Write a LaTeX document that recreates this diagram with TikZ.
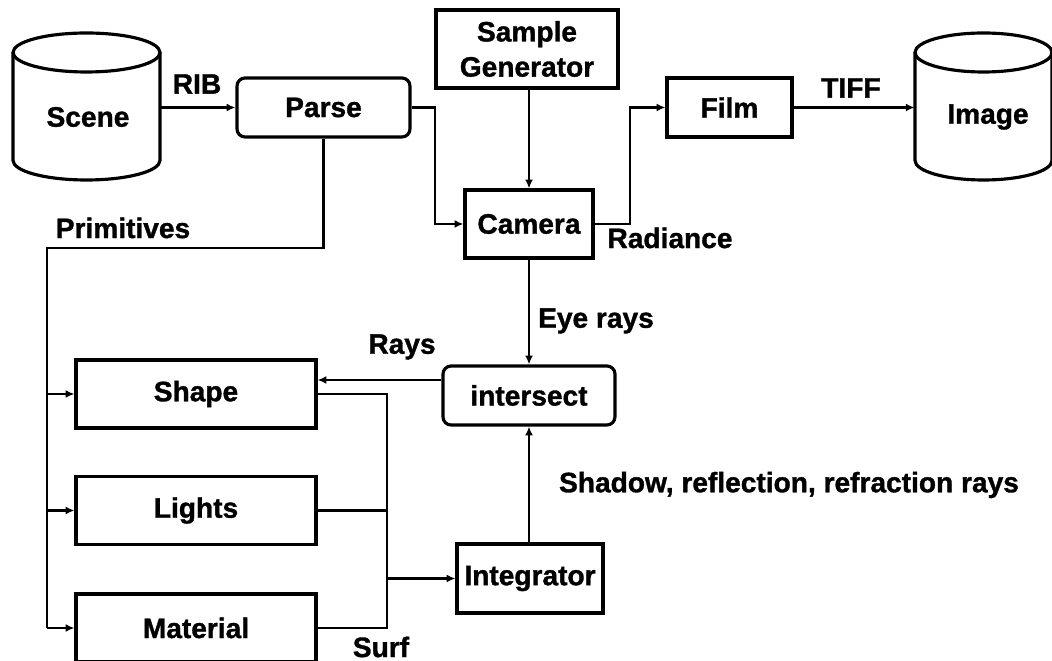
\documentclass[tikz,border=0pt]{standalone}
\usepackage{fontspec}
\setmainfont{Liberation Sans}[BoldFeatures={FakeBold=1.2}]
\usetikzlibrary{arrows.meta}
\begin{document}
\begin{tikzpicture}[x=0.02cm,y=-0.02cm,
  boxline/.style={line width=1.8pt},
  conn/.style={line width=1.5pt},
  arr/.style={conn,-{Latex[length=5pt,width=4.5pt]}},
  txt/.style={font=\fontsize{16}{20}\selectfont\bfseries},
  rbox/.style={boxline,draw,rectangle,inner sep=0pt,txt},
  rrbox/.style={rbox,rounded corners=0.16cm},
  lab/.style={txt,inner sep=0pt}]
\clip (0,0) rectangle (1052,661);
\fill[white] (0,0) rectangle (1052,661);
% cylinders
\node[inner sep=0pt,minimum width=2.94cm,minimum height=2.94cm] (scene) at (86.5,106.5) {};
\node[lab] (scenetxt) at (88,117) {Scene};
\draw[boxline] (86.5,52.5) ellipse [x radius=1.47cm,y radius=0.39cm];
\draw[boxline] (13,52.5) -- (13,160.5) arc[start angle=180,end angle=360,x radius=1.47cm,y radius=0.39cm] -- (160,52.5);
\node[inner sep=0pt,minimum width=2.74cm,minimum height=2.94cm] (image) at (983.5,106.5) {};
\node[lab] (imagetxt) at (988,117) {Image};
\draw[boxline] (983.5,52.5) ellipse [x radius=1.37cm,y radius=0.39cm];
\draw[boxline] (915,52.5) -- (915,160.5) arc[start angle=180,end angle=360,x radius=1.37cm,y radius=0.39cm] -- (1052,52.5);
% boxes
\node[rrbox,minimum width=3.46cm,minimum height=1.18cm] (parse) at (323.5,107.5) {Parse};
\node[rbox,minimum width=3.64cm,minimum height=1.56cm,align=center] (sg) at (527,49) {Sample\\Generator};
\node[rbox,minimum width=2.56cm,minimum height=1.36cm] (camera) at (529,224) {Camera};
\node[rbox,minimum width=2.5cm,minimum height=1.18cm] (film) at (729.5,107.5) {Film};
\node[rrbox,minimum width=3.44cm,minimum height=1.18cm] (intersect) at (529,395.5) {intersect};
\node[rbox,minimum width=2.92cm,minimum height=1.38cm] (integrator) at (530,578.5) {Integrator};
\node[rbox,minimum width=4.8cm,minimum height=1.36cm] (shape) at (196,394) {Shape};
\node[rbox,minimum width=4.8cm,minimum height=1.36cm] (lights) at (196,510.5) {Lights};
\node[rbox,minimum width=4.8cm,minimum height=1.36cm] (material) at (196,628) {Material};
% coordinates
\coordinate (pcol) at (435,0);
\coordinate (rcol) at (630,0);
\coordinate (busTop) at (47,248);
\coordinate (busBot) at (47,628);
\coordinate (rbus) at (387,0);
\coordinate (rayY) at (0,380);
% connectors
\draw[arr] (scene.east |- parse.west) -- (parse.west);
\draw[arr] (parse.east) -- (parse.east -| pcol) |- (camera.west);
\draw[arr] (sg.south -| camera.north) -- (camera.north);
\draw[arr] (camera.east) -- (camera.east -| rcol) |- (film.west);
\draw[arr] (film.east) -- (image.west |- film.east);
\draw[conn] (parse.south) |- (busTop) -- (busBot);
\draw[arr] (shape.west -| busTop) -- (shape.west);
\draw[arr] (lights.west -| busTop) -- (lights.west);
\draw[arr] (material.west -| busTop) -- (material.west);
\draw[arr] (camera.south) -- (intersect.north);
\draw[arr] (intersect.west |- rayY) -- (shape.east |- rayY);
\draw[conn] (shape.east) -- (shape.east -| rbus) -- (material.east -| rbus) -- (material.east);
\draw[conn] (lights.east) -- (lights.east -| rbus);
\draw[arr] (integrator.west -| rbus) -- (integrator.west);
\draw[arr] (integrator.north -| intersect.south) -- (intersect.south);
% labels
\node[lab] (rib) at (197,84) {RIB};
\node[lab] (prim) at (123,228) {Primitives};
\node[lab] (rad) at (670,238) {Radiance};
\node[lab] (tiff) at (851,88) {TIFF};
\node[lab] (eye) at (596,321) {Eye rays};
\node[lab] (rays) at (402,347) {Rays};
\node[lab] (surf) at (381,647) {Surf};
\node[lab] (shadow) at (789,485) {Shadow, reflection, refraction rays};
\end{tikzpicture}
\end{document}
